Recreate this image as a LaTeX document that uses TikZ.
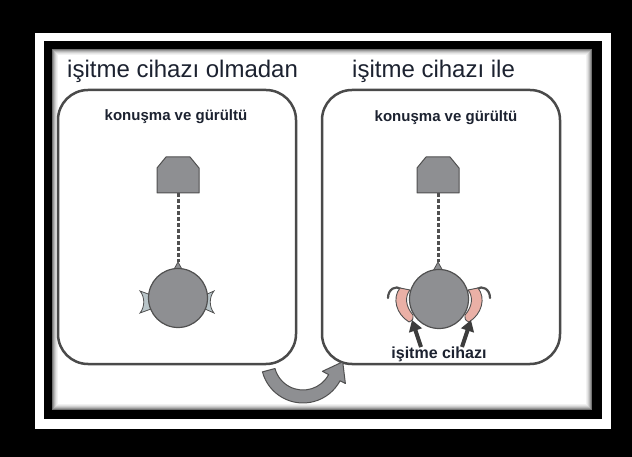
\documentclass[tikz,border=0pt]{standalone}
\usepackage{fontspec}
\setmainfont{Liberation Sans}
\usetikzlibrary{arrows.meta,calc}
\definecolor{ink}{HTML}{1C2230}
\definecolor{boxline}{HTML}{4A4A4A}
\definecolor{bodygray}{HTML}{8E8F92}
\definecolor{edgegray}{HTML}{505050}
\definecolor{earblue}{HTML}{B8C4C8}
\definecolor{aidpink}{HTML}{EAB0A6}
\definecolor{pointer}{HTML}{3C3C3C}
\tikzset{
  panel/.style={draw=boxline, line width=2.5pt, rounded corners=30pt},
  title/.style={text=ink, font=\fontsize{24}{28}\selectfont, inner sep=0pt, anchor=base west},
  caption/.style={text=ink, font=\bfseries\fontsize{15}{18}\selectfont, inner sep=0pt, anchor=base},
  speaker/.style={fill=bodygray, draw=edgegray, line width=1pt, line join=round},
  head/.style={circle, fill=bodygray, draw=edgegray, line width=1.2pt, minimum size=59pt, inner sep=0pt},
  signal/.style={draw=edgegray, line width=3pt, dash pattern=on 4pt off 2pt},
  earpiece/.style={fill=earblue, draw=edgegray, line width=0.8pt},
  aid/.style={fill=aidpink, draw=edgegray, line width=0.9pt, line join=round},
  hook/.style={draw=edgegray, line width=2.2pt, line cap=round},
  pointerarrow/.style={draw=pointer, line width=4pt, -{Triangle[length=11pt,width=13pt]}},
  turnarrow/.style={fill=bodygray, draw=edgegray, line width=1pt, line join=round}
}
\begin{document}
\begin{tikzpicture}[x=1pt, y=-1pt]
\useasboundingbox (0,0) rectangle (632,457);
% frame: black ground, white band, black band, white sheet
\fill[black] (0,0) rectangle (632,457);
\fill[white] (35,33) rectangle (611,429);
\fill[black] (44,41) rectangle (602,419);
\fill[white] (52,49) rectangle (592,410);
% soft inner shadow along the sheet edge
\foreach \i/\g in {0/55,1/40,2/28,3/18,4/10,5/5}{
  \draw[black!\g, line width=1pt] (52.5+\i,49.5+\i) rectangle (591.5-\i,409.5-\i);
}

% titles
\node[title] (titleL) at (67,78) {işitme cihazı olmadan};
\node[title] (titleR) at (352,78) {işitme cihazı ile};

% panels
\draw[panel] (58,90) rectangle (296,364);
\draw[panel] (322,90) rectangle (560,364);

\node[caption] (noiseL) at (176,121) {konuşma ve gürültü};
\node[caption] (noiseR) at (446,122) {konuşma ve gürültü};

% ---- left panel: listener without hearing aid ----
\draw[speaker] (157,193) -- (157,168) -- (166,157) -- (190,157) -- (199,168) -- (199,193) -- cycle;
\coordinate (spkL) at (178,193);
\coordinate (tipL) at (178,262);
\draw[signal] (spkL) -- (tipL);
\fill[bodygray, draw=edgegray, line width=0.8pt] (tipL) -- (172.5,272) -- (183.5,272) -- cycle;
% ears
\draw[earpiece] (151,295) -- (140,291) .. controls (145,297) and (145,307) .. (140,313) -- (151,309) -- cycle;
\draw[earpiece] (205,295) -- (214,291) .. controls (209,297) and (209,307) .. (214,313) -- (205,309) -- cycle;
\node[head] (headL) at (178,298) {};

% ---- right panel: listener with hearing aids ----
\draw[speaker] (417,193) -- (417,168) -- (426,157) -- (450,157) -- (459,168) -- (459,193) -- cycle;
\coordinate (spkR) at (438,193);
\coordinate (tipR) at (438,262);
\draw[signal] (spkR) -- (tipR);
\fill[bodygray, draw=edgegray, line width=0.8pt] (tipR) -- (432.5,272) -- (443.5,272) -- cycle;
% hearing aids behind the ears
\draw[hook] (401,289) .. controls (396,285) and (388,289) .. (388,298);
\draw[aid] (400,288) .. controls (392,298) and (396,314) .. (409,322)
  .. controls (413,320) .. (413,315) .. controls (405,306) and (405,296) .. (410,290) -- cycle;
\draw[hook] (477,289) .. controls (482,285) and (490,289) .. (490,298);
\draw[aid] (478,288) .. controls (486,298) and (482,314) .. (469,322)
  .. controls (465,320) .. (465,315) .. controls (473,306) and (473,296) .. (468,290) -- cycle;
\node[head] (headR) at (439,299) {};

% label and pointers to the aids
\node[caption, font=\bfseries\fontsize{16}{19}\selectfont] (aidlabel) at (439,358) {işitme cihazı};
\coordinate (aidL) at (412,320);
\coordinate (aidR) at (471,320);
\draw[pointerarrow] (421,347) -- (aidL);
\draw[pointerarrow] (462,347) -- (aidR);

% turning arrow from the first panel to the second
\coordinate (turn) at (303,361);
\draw[turnarrow]
  ($(turn)+(165:42)$) arc[start angle=165, end angle=28, radius=42]
  -- ($(turn)+(28:48)$) -- (342.7,361.8) -- ($(turn)+(28:22)$)
  -- ($(turn)+(28:29)$) arc[start angle=28, end angle=165, radius=29] -- cycle;
\end{tikzpicture}
\end{document}
